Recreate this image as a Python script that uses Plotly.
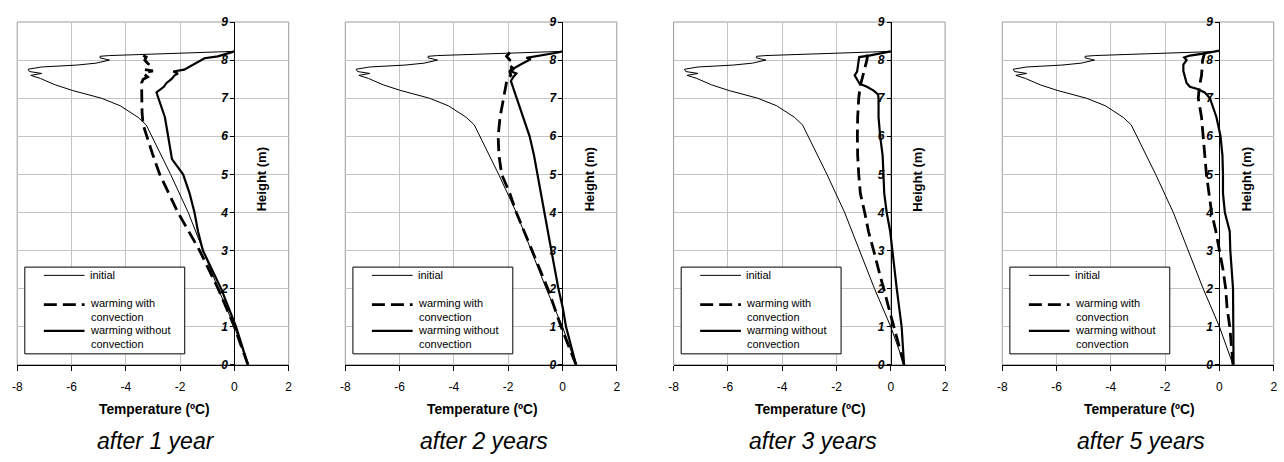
import plotly.graph_objects as go

# ---------------- data ----------------
captions = ["after 1 year", "after 2 years", "after 3 years", "after 5 years"]
x_ticks = [-8, -6, -4, -2, 0, 2]
x_tick_labels = ["-8", "-6", "-4", "-2", "0", "2"]
y_ticks = [0, 1, 2, 3, 4, 5, 6, 7, 8, 9]
y_tick_labels = ["0", "1", "2", "3", "4", "5", "6", "7", "8", "9"]
legend_labels = ["initial", "warming with<br>convection", "warming without<br>convection"]

init_h = [0, 0.5, 1.0, 2.0, 3.0, 4.0, 5.0, 5.5, 6.0, 6.3, 6.5, 6.8, 7.0, 7.2, 7.35, 7.45,
          7.52, 7.6, 7.65, 7.7, 7.76, 7.82, 7.87, 7.92, 8.0, 8.06, 8.1, 8.12, 8.23]
init_T = [0.5, 0.25, 0.0, -0.6, -1.15, -1.7, -2.35, -2.7, -3.05, -3.25, -3.55, -4.2, -4.9,
          -5.95, -6.6, -6.9, -7.15, -7.5, -7.1, -7.55, -7.6, -7.1, -5.8, -5.1, -4.6, -4.95,
          -4.95, -4.6, 0.0]

conv1_h = [0, 1, 2, 3, 4, 5, 5.5, 6, 6.3, 6.6, 7, 7.4, 7.5, 7.56, 7.62, 7.67, 7.72, 7.75,
           7.8, 7.9, 8.0, 8.08, 8.14, 8.22]
conv1_T = [0.5, 0.0, -0.6, -1.28, -2.08, -2.75, -3.0, -3.24, -3.36, -3.4, -3.42, -3.42,
           -3.36, -3.2, -3.3, -3.32, -3.0, -3.3, -3.3, -3.17, -3.3, -3.25, -3.42, -3.42]
noconv1_h = [0, 1, 2, 3, 3.5, 4, 4.5, 5, 5.4, 5.8, 6, 6.5, 7, 7.15, 7.3, 7.4, 7.5, 7.6,
             7.65, 7.7, 7.75, 7.85, 7.95, 8.0, 8.05, 8.1, 8.2, 8.23]
noconv1_T = [0.5, 0.06, -0.49, -1.16, -1.34, -1.47, -1.65, -1.89, -2.3, -2.38, -2.44, -2.56,
             -2.81, -2.87, -2.6, -2.5, -2.32, -2.2, -2.08, -2.25, -1.85, -1.59, -1.34, -1.2,
             -1.1, -0.61, -0.12, 0.0]

conv2_h = [0, 1, 2, 3, 4, 4.5, 5, 5.5, 6, 6.5, 7, 7.3, 7.5, 7.6, 7.7, 7.8, 7.9, 8.0, 8.1, 8.2]
conv2_T = [0.5, -0.05, -0.54, -1.12, -1.7, -1.94, -2.24, -2.34, -2.37, -2.3, -2.18, -2.09,
           -2.04, -1.9, -1.94, -1.85, -2.0, -1.94, -2.06, -1.94]
noconv2_h = [0, 0.5, 1, 1.5, 2, 3, 4, 4.5, 5, 5.5, 6, 6.5, 7, 7.3, 7.45, 7.55, 7.65, 7.7,
             7.8, 7.9, 7.98, 8.02, 8.06, 8.12, 8.2, 8.23]
noconv2_T = [0.5, 0.32, 0.13, 0.01, -0.15, -0.41, -0.66, -0.78, -0.9, -1.05, -1.21, -1.45,
             -1.7, -1.85, -1.9, -1.82, -1.7, -1.88, -1.76, -1.51, -1.27, -1.17, -1.33, -0.78,
             -0.17, 0.0]

conv3_h = [0, 0.5, 1, 1.5, 2, 2.5, 3, 3.5, 4, 4.5, 5, 5.5, 6, 6.5, 7, 7.35, 7.5, 7.8, 8.0, 8.2]
conv3_T = [0.49, 0.3, 0.1, -0.09, -0.27, -0.45, -0.63, -0.82, -0.96, -1.12, -1.18, -1.22,
           -1.23, -1.22, -1.18, -1.12, -1.06, -0.94, -0.88, -0.84]
noconv3_h = [0, 1, 2, 3, 3.5, 4, 4.5, 5, 5.5, 6, 6.5, 7, 7.1, 7.2, 7.3, 7.38, 7.5, 7.6, 7.7,
             7.85, 8.0, 8.08, 8.12, 8.23]
noconv3_T = [0.49, 0.4, 0.22, 0.06, -0.02, -0.15, -0.24, -0.27, -0.3, -0.39, -0.45, -0.45,
             -0.47, -0.63, -0.88, -1.15, -1.25, -1.33, -1.24, -1.22, -1.18, -1.16, -0.8, 0.0]

conv4_h = [0, 0.5, 1, 1.5, 2, 2.5, 3, 3.5, 4, 4.5, 5, 5.5, 6, 6.5, 7, 7.3, 7.6, 8.0, 8.2]
conv4_T = [0.5, 0.44, 0.38, 0.28, 0.23, 0.13, 0.01, -0.13, -0.29, -0.38, -0.48, -0.54, -0.6,
           -0.66, -0.78, -0.74, -0.66, -0.62, -0.54]
noconv4_h = [0, 1, 2, 3, 3.5, 4, 4.5, 5, 5.5, 6, 6.5, 7, 7.15, 7.25, 7.3, 7.4, 7.54, 7.71,
             7.88, 8.0, 8.07, 8.12, 8.17, 8.25]
noconv4_T = [0.52, 0.52, 0.5, 0.4, 0.38, 0.2, 0.13, 0.13, 0.11, 0.04, -0.11, -0.35, -0.54,
             -0.84, -1.09, -1.21, -1.27, -1.33, -1.33, -1.21, -1.3, -1.09, -0.6, 0.0]

conv_h = [conv1_h, conv2_h, conv3_h, conv4_h]
conv_T = [conv1_T, conv2_T, conv3_T, conv4_T]
noconv_h = [noconv1_h, noconv2_h, noconv3_h, noconv4_h]
noconv_T = [noconv1_T, noconv2_T, noconv3_T, noconv4_T]

# ---------------- layout geometry ----------------
W, H = 1284, 462
FONT = "Liberation Sans, Arial, Helvetica, sans-serif"
panel_left = [12.3, 342.7, 673.3, 1004.3]
panel_w = 273.4
y_top_px, y_bot_px = 15.5, 369.0
ydom = [1 - y_bot_px / H, 1 - y_top_px / H]
XMIN, XMAX = -8, 2

DASH = "13px,6px"

fig = go.Figure()
layout = dict(
    width=W, height=H, autosize=False,
    margin=dict(l=0, r=0, t=0, b=0),
    paper_bgcolor="white", plot_bgcolor="white",
    showlegend=False, font=dict(family=FONT, color="black"),
    annotations=[], shapes=[],
)

for i in range(4):
    sfx = "" if i == 0 else str(i + 1)
    xa, ya = "x" + sfx, "y" + sfx
    xd = [panel_left[i] / W, (panel_left[i] + panel_w) / W]
    ypos = xd[0] + (0 - XMIN) / (XMAX - XMIN) * (xd[1] - xd[0])

    fig.add_trace(go.Scatter(x=init_T, y=init_h, xaxis=xa, yaxis=ya, mode="lines",
                             line=dict(color="black", width=1), hoverinfo="skip"))
    fig.add_trace(go.Scatter(x=conv_T[i], y=conv_h[i], xaxis=xa, yaxis=ya, mode="lines",
                             line=dict(color="black", width=2.8, dash=DASH), hoverinfo="skip"))
    fig.add_trace(go.Scatter(x=noconv_T[i], y=noconv_h[i], xaxis=xa, yaxis=ya, mode="lines",
                             line=dict(color="black", width=2.2), hoverinfo="skip"))

    layout["xaxis" + sfx] = dict(
        domain=xd, anchor=ya, range=[XMIN, XMAX], tickvals=x_ticks, ticktext=x_tick_labels,
        showgrid=True, gridcolor="#c4c4c4", gridwidth=1, zeroline=False,
        showline=True, linecolor="black", linewidth=1,
        ticks="outside", ticklen=5, tickcolor="black", tickwidth=1,
        tickfont=dict(size=12, family=FONT, color="black"), ticklabelstandoff=6,
    )
    layout["yaxis" + sfx] = dict(
        domain=ydom, anchor="free", position=ypos, side="left", range=[0, 9],
        tickvals=y_ticks, ticktext=y_tick_labels, showgrid=True, gridcolor="#c4c4c4",
        gridwidth=1, zeroline=False,
        showline=True, linecolor="black", linewidth=1,
        ticks="outside", ticklen=4, tickcolor="black", tickwidth=1,
        tickfont=dict(size=12, family=FONT, color="black", weight="bold", style="italic"),
    )

    xdom_ref, ydom_ref = xa + " domain", ya + " domain"
    # plot frame
    layout["shapes"].append(dict(type="rect", xref=xdom_ref, yref=ydom_ref, x0=0, x1=1,
                                 y0=0, y1=1, line=dict(color="#9a9a9a", width=1),
                                 layer="below"))
    # legend box
    layout["shapes"].append(dict(type="rect", xref=xdom_ref, yref=ydom_ref, x0=0.028,
                                 x1=0.617, y0=0.032, y1=0.285,
                                 line=dict(color="black", width=1), fillcolor="white",
                                 layer="above"))
    sample_y = [0.261, 0.1755, 0.099]
    sample_w = [1, 2.8, 2.2]
    sample_dash = ["solid", DASH, "solid"]
    text_y = [0.261, 0.1585, 0.081]
    for k in range(3):
        layout["shapes"].append(dict(type="line", xref=xdom_ref, yref=ydom_ref, x0=0.098,
                                     x1=0.248, y0=sample_y[k], y1=sample_y[k],
                                     line=dict(color="black", width=sample_w[k],
                                               dash=sample_dash[k]), layer="above"))
        layout["annotations"].append(dict(
            xref=xdom_ref, yref=ydom_ref, x=0.26, y=text_y[k], text=legend_labels[k],
            showarrow=False, xanchor="left", yanchor="middle", align="left",
            font=dict(size=11, family=FONT, color="black")))

    # y-axis title (to the right of the x=0 axis)
    layout["annotations"].append(dict(
        xref=xa, yref=ya, x=1.0, y=4.86, text="Height (m)", textangle=-90,
        showarrow=False, xanchor="center", yanchor="middle",
        font=dict(size=13, family=FONT, color="black", weight="bold")))
    # x-axis title
    layout["annotations"].append(dict(
        xref=xdom_ref, yref="paper", x=0.505, y=1 - 415 / H, text="Temperature (ºC)",
        showarrow=False, xanchor="center", yanchor="middle",
        font=dict(size=13.8, family=FONT, color="black", weight="bold")))
    # caption
    layout["annotations"].append(dict(
        xref=xdom_ref, yref="paper", x=0.512, y=1 - 448 / H, text=captions[i],
        showarrow=False, xanchor="center", yanchor="middle",
        font=dict(size=23, family=FONT, color="black", style="italic")))

fig.update_layout(**layout)
fig.write_html("out.html")
